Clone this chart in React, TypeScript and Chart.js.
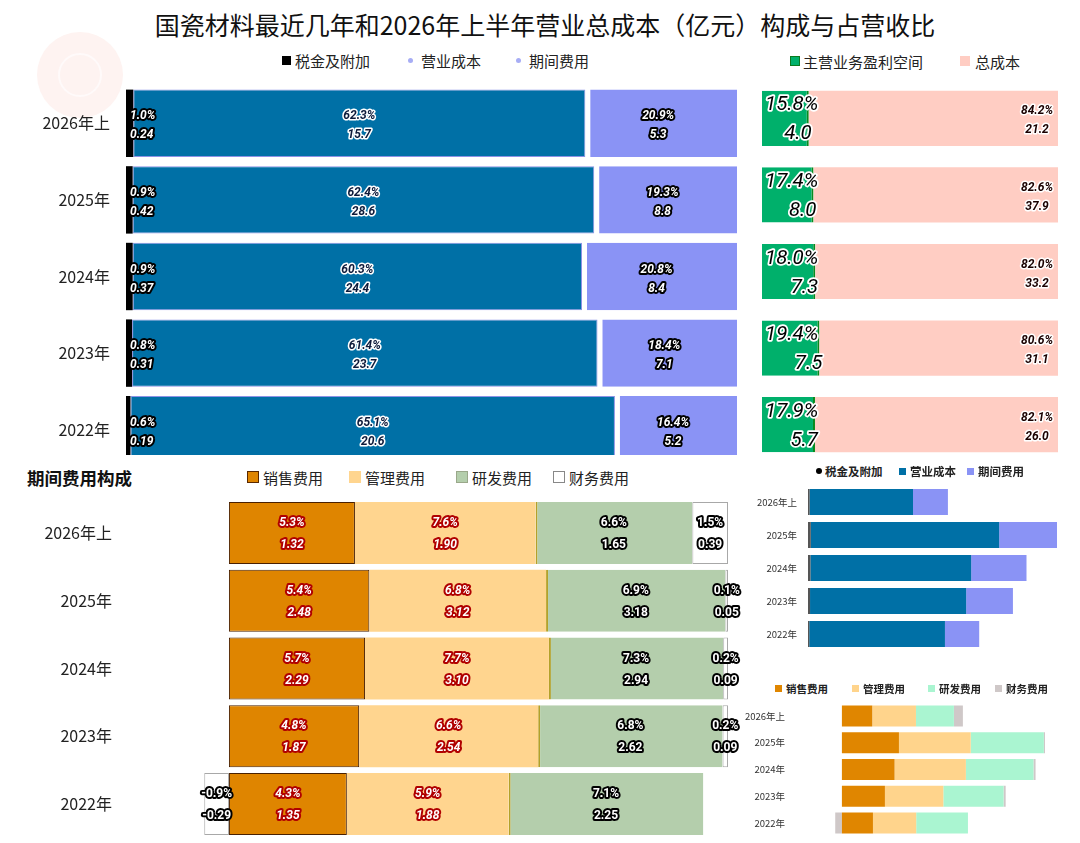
import React, { useEffect, useRef } from 'react';
import { Chart, registerables } from 'chart.js';
Chart.register(...registerables);

const categories = ['2026年上', '2025年', '2024年', '2023年', '2022年'];
// 营业总成本构成（占营收比 %，亿元）
const taxPct = [1.0, 0.9, 0.9, 0.8, 0.6];
const taxVal = [0.24, 0.42, 0.37, 0.31, 0.19];
const costPct = [62.3, 62.4, 60.3, 61.4, 65.1];
const costVal = [15.7, 28.6, 24.4, 23.7, 20.6];
const periodPct = [20.9, 19.3, 20.8, 18.4, 16.4];
const periodVal = [5.3, 8.8, 8.4, 7.1, 5.2];
// 主营业务盈利空间 vs 总成本
const profitPct = [15.8, 17.4, 18.0, 19.4, 17.9];
const profitVal = [4.0, 8.0, 7.3, 7.5, 5.7];
const totalPct = [84.2, 82.6, 82.0, 80.6, 82.1];
const totalVal = [21.2, 37.9, 33.2, 31.1, 26.0];
// 期间费用构成
const salesPct = [5.3, 5.4, 5.7, 4.8, 4.3];
const salesVal = [1.32, 2.48, 2.29, 1.87, 1.35];
const mgmtPct = [7.6, 6.8, 7.7, 6.6, 5.9];
const mgmtVal = [1.9, 3.12, 3.1, 2.54, 1.88];
const rdPct = [6.6, 6.9, 7.3, 6.8, 7.1];
const rdVal = [1.65, 3.18, 2.94, 2.62, 2.25];
const finPct = [1.5, 0.1, 0.2, 0.2, -0.9];
const finVal = [0.39, 0.05, 0.09, 0.09, -0.29];

const CJK = "'Noto Sans CJK SC', 'Noto Sans', sans-serif";
const NUM = "Roboto, 'Noto Sans', sans-serif";

Chart.defaults.font.family = CJK;

function outlined(
  ctx: CanvasRenderingContext2D,
  text: string,
  x: number,
  y: number,
  font: string,
  fill: string,
  stroke: string,
  lw: number,
  align: CanvasTextAlign = 'center'
) {
  ctx.save();
  ctx.font = font;
  ctx.textAlign = align;
  ctx.textBaseline = 'middle';
  ctx.lineJoin = 'round';
  ctx.lineWidth = lw;
  ctx.strokeStyle = stroke;
  ctx.strokeText(text, x, y);
  ctx.fillStyle = fill;
  ctx.fillText(text, x, y);
  ctx.restore();
}

const pct = (v: number) => v.toFixed(1) + '%';

function baseOptions(
  padding: any,
  yWidth: number,
  tickPad: number,
  tickSize: number,
  tickColor: string,
  xmin: number,
  xmax: number,
  showY = true
): any {
  return {
    indexAxis: 'y',
    responsive: true,
    maintainAspectRatio: false,
    animation: false,
    layout: { padding },
    plugins: { legend: { display: false }, tooltip: { enabled: false } },
    scales: {
      x: { stacked: true, display: false, min: xmin, max: xmax },
      y: {
        stacked: true,
        display: showY,
        grid: { display: false, drawTicks: false },
        border: { display: false },
        ticks: { padding: tickPad, color: tickColor, font: { size: tickSize, family: CJK } },
        afterFit: (s: any) => {
          s.width = yWidth;
          s.paddingTop = 0;
          s.paddingBottom = 0;
        },
      },
    },
  };
}

function LegendItem(props: {
  x: number;
  y: number;
  color: string;
  label: string;
  size: number;
  fontSize: number;
  border?: string;
  round?: boolean;
  bold?: boolean;
  gap?: number;
}) {
  const { x, y, color, label, size, fontSize, border, round, bold, gap } = props;
  return (
    <div
      style={{
        position: 'absolute',
        left: x,
        top: y - fontSize,
        height: fontSize * 2,
        display: 'flex',
        alignItems: 'center',
        fontFamily: CJK,
        fontSize,
        fontWeight: bold ? 700 : 400,
        color: '#222',
        whiteSpace: 'nowrap',
      }}
    >
      <span
        style={{
          display: 'inline-block',
          width: size,
          height: size,
          background: color,
          border: border ? `1px solid ${border}` : 'none',
          borderRadius: round ? '50%' : 0,
          marginRight: gap ?? 4,
          boxSizing: 'border-box',
        }}
      />
      <span>{label}</span>
    </div>
  );
}

export default function App() {
  const refA = useRef<HTMLCanvasElement>(null);
  const refB = useRef<HTMLCanvasElement>(null);
  const refC = useRef<HTMLCanvasElement>(null);
  const refD = useRef<HTMLCanvasElement>(null);
  const refE = useRef<HTMLCanvasElement>(null);

  useEffect(() => {
    const charts: Chart[] = [];

    // ---------- A: 营业总成本构成（按总成本100%） ----------
    const sumA = categories.map((_, i) => taxPct[i] + costPct[i] + periodPct[i]);
    charts.push(
      new Chart(refA.current!, {
        type: 'bar',
        data: {
          labels: categories,
          datasets: [
            {
              label: '税金及附加',
              data: taxPct.map((v, i) => v / sumA[i]),
              backgroundColor: '#000000',
              borderWidth: 0,
              barPercentage: 0.88,
              categoryPercentage: 1,
            },
            {
              label: '营业成本',
              data: costPct.map((v, i) => v / sumA[i]),
              backgroundColor: '#0070a6',
              borderColor: '#8d92e6',
              borderWidth: 1,
              borderSkipped: false,
              barPercentage: 0.88,
              categoryPercentage: 1,
            },
            {
              label: '期间费用',
              data: periodPct.map((v, i) => v / sumA[i]),
              backgroundColor: '#8a93f5',
              borderColor: '#ffffff',
              borderWidth: { left: 5, top: 0, right: 0, bottom: 0 },
              borderSkipped: false,
              barPercentage: 0.88,
              categoryPercentage: 1,
            },
          ],
        } as any,
        options: baseOptions({ top: 5, bottom: 7, right: 8, left: 0 }, 126, 16, 16, '#222', 0, 1),
        plugins: [
          {
            id: 'labelsA',
            afterDatasetsDraw(chart: any) {
              const ctx = chart.ctx;
              const m0 = chart.getDatasetMeta(0).data;
              const m1 = chart.getDatasetMeta(1).data;
              const m2 = chart.getDatasetMeta(2).data;
              const f = `italic bold 12px ${NUM}`;
              categories.forEach((_, i) => {
                const y = m0[i].y;
                const tx = Math.min(m0[i].base, m0[i].x) + 4;
                outlined(ctx, pct(taxPct[i]), tx, y - 7, f, '#fff', '#000', 4, 'left');
                outlined(ctx, taxVal[i].toFixed(2), tx, y + 12, f, '#fff', '#000', 4, 'left');
                const cx = (m1[i].x + m1[i].base) / 2;
                outlined(ctx, pct(costPct[i]), cx, y - 7, f, '#0d1a3a', '#fff', 3);
                outlined(ctx, costVal[i].toFixed(1), cx, y + 12, f, '#0d1a3a', '#fff', 3);
                const px = (m2[i].x + m2[i].base) / 2 - 3;
                outlined(ctx, pct(periodPct[i]), px, y - 7, f, '#fff', '#000', 4);
                outlined(ctx, periodVal[i].toFixed(1), px, y + 12, f, '#fff', '#000', 4);
              });
            },
          },
        ],
      })
    );

    // ---------- B: 主营业务盈利空间 / 总成本 ----------
    charts.push(
      new Chart(refB.current!, {
        type: 'bar',
        data: {
          labels: categories,
          datasets: [
            {
              label: '主营业务盈利空间',
              data: profitPct,
              backgroundColor: '#00b06b',
              borderColor: '#0b8a1e',
              borderWidth: { left: 0, top: 0, bottom: 0, right: 2 },
              borderSkipped: false,
              barPercentage: 0.72,
              categoryPercentage: 1,
            },
            {
              label: '总成本',
              data: totalPct,
              backgroundColor: '#ffcdc3',
              borderWidth: 0,
              barPercentage: 0.72,
              categoryPercentage: 1,
            },
          ],
        } as any,
        options: baseOptions({ top: 0, bottom: 12, right: 22, left: 17 }, 0, 0, 10, '#222', 0, 100, false),
        plugins: [
          {
            id: 'labelsB',
            afterDatasetsDraw(chart: any) {
              const ctx = chart.ctx;
              const m0 = chart.getDatasetMeta(0).data;
              const m1 = chart.getDatasetMeta(1).data;
              const big = `italic 20.5px ${NUM}`;
              const small = `italic bold 12px ${NUM}`;
              categories.forEach((_, i) => {
                const y = m0[i].y;
                outlined(ctx, pct(profitPct[i]), m0[i].base + 3, y - 13, big, '#000', '#fff', 3.5, 'left');
                outlined(ctx, profitVal[i].toFixed(1), m0[i].x + 3, y + 16, big, '#000', '#fff', 3.5, 'right');
                const rx = m1[i].x - 21;
                outlined(ctx, pct(totalPct[i]), rx, y - 7, small, '#1a0000', '#fff', 3);
                outlined(ctx, totalVal[i].toFixed(1), rx, y + 12, small, '#1a0000', '#fff', 3);
              });
            },
          },
        ],
      })
    );

    // ---------- C: 期间费用构成（按绝对值100%） ----------
    const sumC = categories.map(
      (_, i) => Math.abs(salesPct[i]) + Math.abs(mgmtPct[i]) + Math.abs(rdPct[i]) + Math.abs(finPct[i])
    );
    const bpC = 0.915;
    charts.push(
      new Chart(refC.current!, {
        type: 'bar',
        data: {
          labels: categories,
          datasets: [
            {
              label: '销售费用',
              data: salesPct.map((v, i) => v / sumC[i]),
              backgroundColor: '#df8500',
              borderColor: '#4a2000',
              borderWidth: 1,
              borderSkipped: false,
              barPercentage: bpC,
              categoryPercentage: 1,
            },
            {
              label: '管理费用',
              data: mgmtPct.map((v, i) => v / sumC[i]),
              backgroundColor: '#ffd58f',
              borderWidth: 0,
              barPercentage: bpC,
              categoryPercentage: 1,
            },
            {
              label: '研发费用',
              data: rdPct.map((v, i) => v / sumC[i]),
              backgroundColor: '#b4ceac',
              borderColor: '#b3a12a',
              borderWidth: { left: 2, top: 0, right: 0, bottom: 0 },
              borderSkipped: false,
              barPercentage: bpC,
              categoryPercentage: 1,
            },
            {
              label: '财务费用',
              data: finPct.map((v, i) => v / sumC[i]),
              backgroundColor: '#ffffff',
              borderColor: '#a8a8a8',
              borderWidth: 1,
              borderSkipped: false,
              barPercentage: bpC,
              categoryPercentage: 1,
            },
          ],
        } as any,
        options: baseOptions({ top: 5, bottom: 5, right: 17, left: 0 }, 199, 87, 16, '#222', -0.06, 1),
        plugins: [
          {
            id: 'labelsC',
            afterDatasetsDraw(chart: any) {
              const ctx = chart.ctx;
              const sets = [
                { p: salesPct, v: salesVal, it: true, st: '#b00000' },
                { p: mgmtPct, v: mgmtVal, it: true, st: '#b00000' },
                { p: rdPct, v: rdVal, it: false, st: '#000' },
                { p: finPct, v: finVal, it: false, st: '#000' },
              ];
              sets.forEach((s, d) => {
                const meta = chart.getDatasetMeta(d).data;
                const f = `${s.it ? 'italic ' : ''}bold 12px ${NUM}`;
                categories.forEach((_, i) => {
                  const el = meta[i];
                  const cx = (el.x + el.base) / 2;
                  const y = el.y;
                  outlined(ctx, pct(s.p[i]), cx, y - 10, f, '#fff', s.st, 4);
                  outlined(ctx, s.v[i].toFixed(2), cx, y + 12, f, '#fff', s.st, 4);
                });
              });
            },
          },
        ],
      })
    );

    // ---------- D: 营业总成本（亿元） ----------
    charts.push(
      new Chart(refD.current!, {
        type: 'bar',
        data: {
          labels: categories,
          datasets: [
            { label: '税金及附加', data: taxVal, backgroundColor: '#555555', barPercentage: 0.79, categoryPercentage: 1 },
            { label: '营业成本', data: costVal, backgroundColor: '#0070a6', barPercentage: 0.79, categoryPercentage: 1 },
            { label: '期间费用', data: periodVal, backgroundColor: '#8a93f5', barPercentage: 0.79, categoryPercentage: 1 },
          ],
        } as any,
        options: baseOptions({ top: 5.5, bottom: 4.5, right: 23, left: 0 }, 68, 11, 9.5, '#333', 0, 37.8),
      })
    );

    // ---------- E: 期间费用（亿元） ----------
    charts.push(
      new Chart(refE.current!, {
        type: 'bar',
        data: {
          labels: categories,
          datasets: [
            { label: '销售费用', data: salesVal, backgroundColor: '#e08600', barPercentage: 0.785, categoryPercentage: 1 },
            { label: '管理费用', data: mgmtVal, backgroundColor: '#ffd48c', barPercentage: 0.785, categoryPercentage: 1 },
            { label: '研发费用', data: rdVal, backgroundColor: '#aaf5d1', barPercentage: 0.785, categoryPercentage: 1 },
            { label: '财务费用', data: finVal, backgroundColor: '#cfc8c8', barPercentage: 0.785, categoryPercentage: 1 },
          ],
        } as any,
        options: baseOptions({ top: 2.6, bottom: 6.6, right: 35, left: 0 }, 95, 50, 9.5, '#333', -0.3, 8.83),
      })
    );

    return () => charts.forEach((c) => c.destroy());
  }, []);

  const box = (l: number, t: number, w: number, h: number): React.CSSProperties => ({
    position: 'absolute',
    left: l,
    top: t,
    width: w,
    height: h,
  });

  return (
    <div style={{ position: 'absolute', left: 0, top: 0, width: 1080, height: 843, background: '#fff', overflow: 'hidden' }}>
      {/* watermark */}
      <div style={{ ...box(37, 32, 86, 86), borderRadius: '50%', background: '#fef3f1' }} />
      <div style={{ ...box(58, 53, 44, 44), borderRadius: '50%', border: '2px solid #fffafa', boxSizing: 'border-box' }} />

      <div
        style={{
          position: 'absolute',
          left: 0,
          top: 6,
          width: 1090,
          textAlign: 'center',
          fontFamily: CJK,
          fontSize: 25,
          color: '#111',
          whiteSpace: 'nowrap',
        }}
      >
        国瓷材料最近几年和2026年上半年营业总成本（亿元）构成与占营收比
      </div>

      {/* legends A */}
      <LegendItem x={282} y={60} color="#000" label="税金及附加" size={9} fontSize={15} gap={4} />
      <LegendItem x={408} y={60} color="#a7adf5" label="营业成本" size={5} fontSize={15} round gap={8} />
      <LegendItem x={516} y={60} color="#a7adf5" label="期间费用" size={5} fontSize={15} round gap={8} />
      {/* legends B */}
      <LegendItem x={790} y={61} color="#00b06b" border="#0b7a1e" label="主营业务盈利空间" size={10} fontSize={15} gap={3} />
      <LegendItem x={960} y={61} color="#ffcdc3" label="总成本" size={10} fontSize={15} gap={5} />

      {/* Chart A & B (clipped at bottom) */}
      <div style={{ ...box(0, 80, 1080, 375), overflow: 'hidden' }}>
        <div style={{ ...box(0, 0, 745, 395) }}>
          <canvas ref={refA} />
        </div>
        <div style={{ ...box(745, 0, 335, 395) }}>
          <canvas ref={refB} />
        </div>
      </div>

      {/* Section C title & legend */}
      <div style={{ position: 'absolute', left: 27, top: 465, fontFamily: CJK, fontSize: 17.5, fontWeight: 700, color: '#111' }}>
        期间费用构成
      </div>
      <LegendItem x={247} y={477} color="#df8500" border="#5a2800" label="销售费用" size={12} fontSize={15} gap={4} />
      <LegendItem x={349} y={477} color="#ffd58f" label="管理费用" size={12} fontSize={15} gap={4} />
      <LegendItem x={456} y={477} color="#b4ceac" border="#9aa88a" label="研发费用" size={12} fontSize={15} gap={4} />
      <LegendItem x={553} y={477} color="#ffffff" border="#888" label="财务费用" size={12} fontSize={15} gap={4} />

      <div style={{ ...box(0, 494, 745, 349) }}>
        <canvas ref={refC} />
      </div>

      {/* legend D */}
      <LegendItem x={816} y={471} color="#000" label="税金及附加" size={6} fontSize={11.5} round bold gap={3} />
      <LegendItem x={899} y={471} color="#0070a6" label="营业成本" size={7} fontSize={11.5} bold gap={4} />
      <LegendItem x={967} y={471} color="#8a93f5" label="期间费用" size={7} fontSize={11.5} bold gap={4} />
      <div style={{ ...box(740, 480, 340, 175) }}>
        <canvas ref={refD} />
      </div>

      {/* legend E */}
      <LegendItem x={775} y={688} color="#e08600" label="销售费用" size={7} fontSize={10.5} bold gap={4} />
      <LegendItem x={852} y={688} color="#ffd48c" label="管理费用" size={7} fontSize={10.5} bold gap={4} />
      <LegendItem x={928} y={688} color="#aaf5d1" label="研发费用" size={7} fontSize={10.5} bold gap={4} />
      <LegendItem x={995} y={688} color="#cfc8c8" label="财务费用" size={7} fontSize={10.5} bold gap={4} />
      <div style={{ ...box(740, 700, 340, 143) }}>
        <canvas ref={refE} />
      </div>
    </div>
  );
}
